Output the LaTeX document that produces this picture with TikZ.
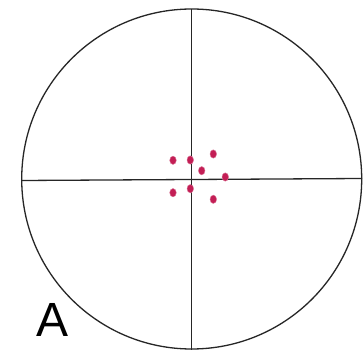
\documentclass[tikz,border=0pt]{standalone}
\usepackage{fontspec}
\setmainfont{Liberation Sans}
\definecolor{dotred}{RGB}{195,30,85}
\begin{document}
\begin{tikzpicture}[x=1pt,y=-1pt,
  hit/.style={fill=dotred,draw=dotred!60,line width=0.4pt,ellipse-ish},
  ellipse-ish/.style={},
  ln/.style={line width=1.3pt,black!85}]
\useasboundingbox (0,0) rectangle (364,352);
\fill[white] (0,0) rectangle (364,352);
\coordinate (c) at (191.7,179);
\node[circle,draw,line width=1.3pt,black!85,minimum size=340pt,inner sep=0pt] (ring) at (c) {};
\coordinate (top) at (191.7,9);
\coordinate (bot) at (191.7,350);
\coordinate (lft) at (21.5,180.5);
\coordinate (rgt) at (362,178.5);
\draw[ln] (top) -- (bot);
\draw[ln] (lft) -- (rgt);
\foreach \x/\y [count=\i] in {173/160.3,190.3/160,213.3/154,201.7/170.7,225.3/177,173/192.7,190.3/188.7,213.3/199.3}{
  \fill[hit] (\x,\y) ellipse (3.3pt and 4.2pt);
}
\node[anchor=base,inner sep=0pt,font=\fontsize{48}{48}\selectfont] (lab) at (52.5,337) {A};
\end{tikzpicture}
\end{document}
